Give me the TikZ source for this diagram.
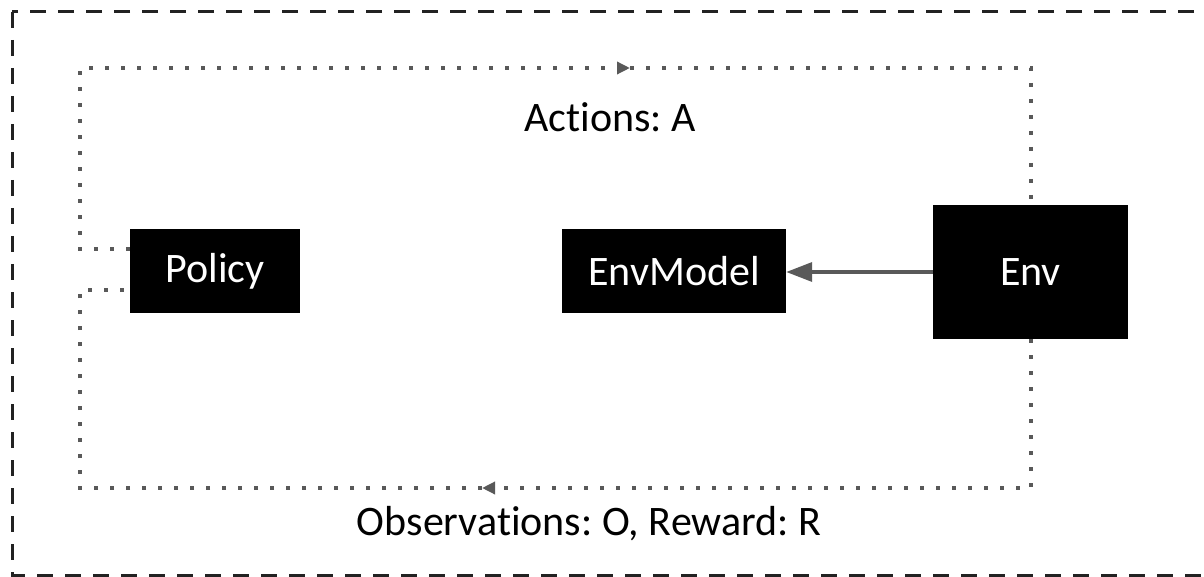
\documentclass[tikz,border=0pt]{standalone}
\usepackage{fontspec}
\setmainfont{Carlito}[Ligatures={NoCommon}]
\usetikzlibrary{arrows.meta}
\definecolor{linegray}{HTML}{595959}
\definecolor{framegray}{HTML}{222222}
\frenchspacing
\begin{document}
\begin{tikzpicture}[x=1pt,y=-1pt,
  font=\fontsize{42}{50}\selectfont,
  block/.style={fill=black,text=white,inner sep=0pt,anchor=center},
  dotline/.style={draw=linegray,line width=4pt,line cap=butt,dash pattern=on 4pt off 12pt},
  dottip/.style={-{Triangle[length=13pt,width=12pt]}},
  frame/.style={draw=framegray,line width=3pt,dash pattern=on 16pt off 12pt},
  label/.style={text=black,inner sep=0pt,anchor=center}]
  \useasboundingbox (0,0) rectangle (1204,577);
  \begin{scope}
    \clip (0,0) rectangle (1204,577);
    \draw[frame] (12,12) rectangle (1230,575);
  \end{scope}

  % blocks
  \node[block,minimum width=170pt,minimum height=84pt] (Policy) at (215,271) {Policy};
  \node[block,minimum width=224pt,minimum height=84pt] (EnvModel) at (674,271) {EnvModel};
  \node[block,minimum width=195pt,minimum height=134pt] (Env) at (1030.5,272) {Env};

  % loop corners
  \coordinate (tl) at (80,68);
  \coordinate (tr) at (1031,68);
  \coordinate (tmid) at (630,68);
  \coordinate (bl) at (80,488);
  \coordinate (br) at (1031,488);
  \coordinate (bmid) at (482,488);
  \coordinate (pa) at (80,249);
  \coordinate (pb) at (80,290);

  % actions loop: Policy -> Env
  \draw[dotline,dottip] (Policy.west|-pa) -- (pa) -- (tl) -- (tmid);
  \draw[dotline] (tmid) -- (tr) -- (Env.north-|tr);
  % observation loop: Env -> Policy
  \draw[dotline,dottip] (Env.south-|br) -- (br) -- (bmid);
  \draw[dotline] (bmid) -- (bl) -- (pb) -- (Policy.west|-pb);

  % Env -> EnvModel
  \draw[draw=linegray,line width=3.5pt,-{Triangle[length=26pt,width=19pt]}] (Env.west|-0,272) -- (EnvModel.east|-0,272);

  \node[label] (actions) at (610,117) {Actions: A};
  \node[label] (obs) at (589,524) {Observations: O, Reward: R};
\end{tikzpicture}
\end{document}
